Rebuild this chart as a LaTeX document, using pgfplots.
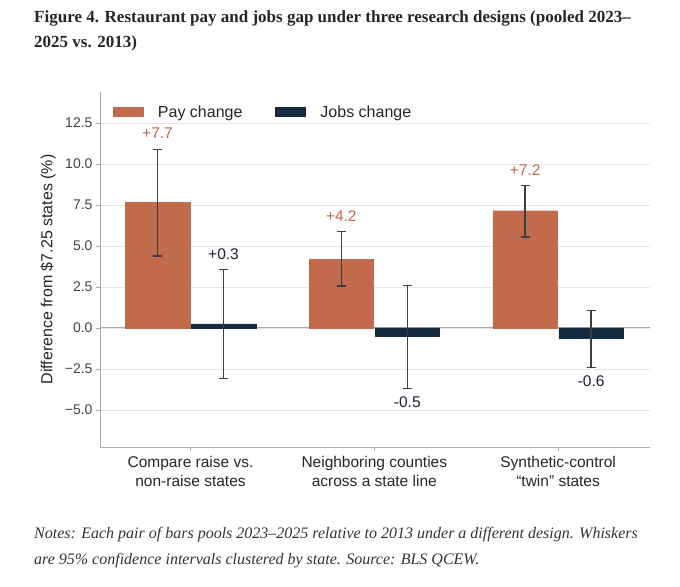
\documentclass[border=0pt]{standalone}
\usepackage{fontspec}
\setmainfont{Liberation Sans}
\newfontfamily\serifface{Liberation Serif}
\usepackage{pgfplots}
\pgfplotsset{compat=1.18}
\usepackage{pgfplotstable}
\definecolor{paycol}{HTML}{C26B4C}
\definecolor{jobcol}{HTML}{15293F}
\definecolor{errcol}{HTML}{3A3F47}
\definecolor{gridcol}{HTML}{E6E6E6}
\definecolor{spinecol}{HTML}{ABABAB}
\definecolor{tickcol}{HTML}{444444}
\definecolor{paylab}{HTML}{C0694A}
\definecolor{joblab}{HTML}{1B2333}

\pgfplotstableread{
x y ep em
-0.1796 7.66 3.24 3.27
0.8204 4.19 1.71 1.63
1.8204 7.15 1.55 1.60
}\paytable
\pgfplotstableread{
x y ep em
0.1796 0.25 3.33 3.34
1.1796 -0.53 3.11 3.17
2.1796 -0.62 1.70 1.80
}\jobtable
\pgfplotstableread{
x y lab
-0.1796 11.9 +7.7
0.8204 6.8 +4.2
1.8204 9.65 +7.2
}\paylabels
\pgfplotstableread{
x y lab
0.1796 4.5 +0.3
1.1796 -4.55 -0.5
2.1796 -3.27 -0.6
}\joblabels

\begin{document}
\begin{tikzpicture}
\useasboundingbox (0bp,0bp) rectangle (680bp,587bp);
\node[anchor=base west, inner sep=0pt, font=\serifface\bfseries\fontsize{17bp}{20bp}\selectfont, text=black!85] at (34bp,564bp) {Figure 4. Restaurant pay and jobs gap under three research designs (pooled 2023–};
\node[anchor=base west, inner sep=0pt, font=\serifface\bfseries\fontsize{17bp}{20bp}\selectfont, text=black!85] at (34bp,539bp) {2025 vs. 2013)};
\node[anchor=base west, inner sep=0pt, font=\serifface\itshape\fontsize{16bp}{19bp}\selectfont, text=black!80] at (34bp,48bp) {Notes: Each pair of bars pools 2023–2025 relative to 2013 under a different design. Whiskers};
\node[anchor=base west, inner sep=0pt, font=\serifface\itshape\fontsize{16bp}{19bp}\selectfont, text=black!80] at (34bp,23bp) {are 95\% confidence intervals clustered by state. Source: BLS QCEW.};
\begin{axis}[
  at={(100bp,140bp)}, anchor=south west,
  scale only axis, width=550bp, height=355bp,
  xmin=-0.4925, xmax=2.5, ymin=-7.256, ymax=14.39,
  axis lines*=left,
  axis line style={spinecol, line width=0.9bp},
  tick align=outside, major tick length=4bp,
  tick style={spinecol, line width=0.8bp},
  xtick={0,1,2},
  xticklabels={{Compare raise vs.\\non-raise states},{Neighboring counties\\across a state line},{Synthetic-control\\“twin” states}},
  xticklabel style={align=center, font=\fontsize{15.5bp}{19bp}\selectfont, text=black!85, yshift=-2bp},
  ytick={-5,-2.5,0,2.5,5,7.5,10,12.5},
  yticklabels={−5.0,−2.5,0.0,2.5,5.0,7.5,10.0,12.5},
  yticklabel style={font=\fontsize{14bp}{16bp}\selectfont, text=tickcol},
  ymajorgrids, grid style={gridcol, line width=0.9bp},
  extra y ticks={0}, extra y tick labels={},
  extra y tick style={grid style={black!35, line width=1bp}, major tick length=0pt},
  ylabel={Difference from \$7.25 states (\%)},
  every axis y label/.style={at={(axis description cs:-0.0945,0.5)}, rotate=90, anchor=center, font=\fontsize{16bp}{18bp}\selectfont, text=black!85},
  legend style={at={(axis description cs:0.0236,0.9437)}, anchor=west, draw=none, fill=none, inner sep=0pt, outer sep=0pt,
    font=\fontsize{16bp}{18bp}\selectfont, text=black!85, nodes={inner sep=0pt},
    /tikz/every odd column/.append style={column sep=14bp},
    /tikz/every even column/.append style={column sep=33bp}},
  legend columns=2,
  legend image code/.code={\fill[#1, draw=none] (0bp,-5bp) rectangle (31bp,5bp);},
]
\addplot[ybar, bar width=64.5bp, bar shift=0pt, fill=paycol, draw=paycol, line width=0.4bp,
  error bars/.cd, y dir=both, y explicit,
  error bar style={draw=errcol, line width=1.3bp},
  error mark options={rotate=90, mark size=4.5bp, line width=1.3bp, draw=errcol}]
  table[x=x, y=y, y error plus=ep, y error minus=em]{\paytable};
\addlegendentry{Pay change}
\addplot[ybar, bar width=64.5bp, bar shift=0pt, fill=jobcol, draw=jobcol, line width=0.4bp,
  error bars/.cd, y dir=both, y explicit,
  error bar style={draw=errcol, line width=1.3bp},
  error mark options={rotate=90, mark size=4.5bp, line width=1.3bp, draw=errcol}]
  table[x=x, y=y, y error plus=ep, y error minus=em]{\jobtable};
\addlegendentry{Jobs change}
\addplot[only marks, mark=none, forget plot, nodes near coords, point meta=explicit symbolic,
  nodes near coords align={anchor=center},
  every node near coord/.append style={font=\fontsize{15.5bp}{18bp}\selectfont, text=paylab, inner sep=0pt}]
  table[x=x, y=y, meta=lab]{\paylabels};
\addplot[only marks, mark=none, forget plot, nodes near coords, point meta=explicit symbolic,
  nodes near coords align={anchor=center},
  every node near coord/.append style={font=\fontsize{15.5bp}{18bp}\selectfont, text=joblab, inner sep=0pt}]
  table[x=x, y=y, meta=lab]{\joblabels};
\end{axis}
\end{tikzpicture}
\end{document}
